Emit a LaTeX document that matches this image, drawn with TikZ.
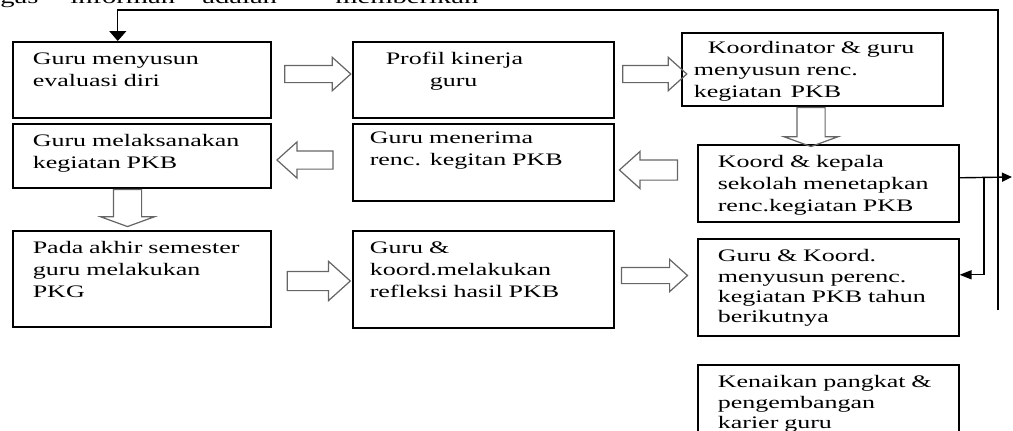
\documentclass[tikz,border=0pt]{standalone}
\usepackage{fontspec}
\setmainfont[FakeStretch=1.48]{Liberation Serif}
\usetikzlibrary{positioning,shapes.arrows,arrows.meta,calc}

\tikzset{
  box/.style={draw=black, line width=0.9pt, rectangle, anchor=north west,
    inner xsep=0.4cm, inner ysep=0pt, text width=4.42cm, align=left,
    text height=0.46cm, font=\fontsize{10pt}{12.5pt}\selectfont},
  hblock/.style={single arrow, draw=black!60, line width=0.7pt, inner sep=0.16cm,
    minimum height=1.28cm, single arrow head extend=0.16cm, single arrow tip angle=84},
  vblock/.style={single arrow, draw=black!60, line width=0.7pt, inner sep=0.27cm,
    minimum height=0.76cm, single arrow head extend=0.26cm, single arrow tip angle=140,
    shape border rotate=270},
  flow/.style={draw=black, line width=0.8pt},
  topword/.style={anchor=base west, inner sep=0pt, font=\fontsize{11pt}{13pt}\selectfont}
}

\begin{document}
\begin{tikzpicture}[x=0.02cm, y=-0.02cm]
  \useasboundingbox (0,0) rectangle (1013,430);
  \clip (0,0) rectangle (1013,430);

  % sisa teks di atas bagan
  \foreach \w/\x [count=\i] in {gas/0, informan/70, adalah/202, memberikan/335}
    \node[topword] (kata\i) at (\x,3) {\w};

  % kotak-kotak
  \node[box, text width=4.36cm, text depth=1.06cm] (evaluasi) at (12,41) {Guru menyusun\\evaluasi diri};
  \node[box, text depth=1.06cm] (profil) at (352,41) {\hspace*{0.26cm}Profil kinerja\\\hspace*{1.14cm}guru};
  \node[box, inner xsep=0.24cm, text width=4.74cm, text height=0.42cm, text depth=1.04cm] (rencana) at (681,32)
    {\hspace*{0.28cm}Koordinator \& guru\\menyusun renc.\\kegiatan\, PKB};
  \node[box, text width=4.36cm, text depth=0.82cm] (melaksanakan) at (12,123) {Guru melaksanakan\\kegiatan PKB};
  \node[box, inner xsep=0.34cm, text width=4.54cm, text height=0.4cm, text depth=1.14cm] (menerima) at (352,123)
    {Guru menerima\\renc. kegitan PKB};
  \node[box, text width=4.36cm, text depth=1.46cm] (pkg) at (12,230) {Pada akhir semester\\guru melakukan\\PKG};
  \node[box, inner xsep=0.34cm, text width=4.54cm, text depth=1.48cm] (refleksi) at (352,230)
    {Guru \&\\koord.melakukan\\refleksi hasil PKB};
  \node[box, text depth=1.08cm] (menetapkan) at (697,144) {Koord \& kepala\\sekolah menetapkan\\renc.kegiatan PKB};
  \node[box, text depth=1.48cm, font=\fontsize{10pt}{11.6pt}\selectfont] (tahunan) at (697,238)
    {Guru \& Koord.\\menyusun perenc.\\kegiatan PKB tahun\\berikutnya};
  \node[box, text depth=1.2cm, font=\fontsize{10pt}{11.6pt}\selectfont] (kenaikan) at (697,364)
    {Kenaikan pangkat \&\\pengembangan\\karier guru};

  % panah blok
  \node[hblock, minimum height=1.32cm] (p1) at (313,74) {};
  \node[hblock] (p2) at (650,74) {};
  \node[vblock, minimum height=0.78cm] (p3) at (811,124.5) {};
  \node[hblock, shape border rotate=180, minimum height=1.16cm, inner sep=0.19cm, single arrow head extend=0.17cm] (p4) at (654,170) {};
  \node[hblock, shape border rotate=180, minimum height=1.12cm, inner sep=0.17cm, single arrow head extend=0.18cm] (p5) at (310,160) {};
  \node[vblock, minimum height=0.74cm] (p6) at (127.5,205.5) {};
  \node[hblock, minimum height=1.26cm, inner sep=0.18cm, single arrow head extend=0.2cm] (p7) at (313.5,281) {};
  \node[hblock, minimum height=1.32cm, inner sep=0.15cm] (p8) at (650,275.5) {};

  % garis alur
  \coordinate (loopend) at (998,310);
  \coordinate (looptop) at (998,10);
  \coordinate (split) at (984,177);
  \coordinate (keluar) at (1012,177);
  \draw[flow, -{Triangle[length=0.2cm, width=0.34cm]}] (loopend) -- (looptop) -| ([xshift=-0.48cm]evaluasi.north);
  \draw[flow, -{Triangle[length=0.2cm, width=0.18cm]}] ([yshift=0.11cm]menetapkan.east) -- (keluar);
  \draw[flow, -{Triangle[length=0.24cm, width=0.18cm]}] (split) |- ([yshift=0.25cm]tahunan.east);
\end{tikzpicture}
\end{document}
